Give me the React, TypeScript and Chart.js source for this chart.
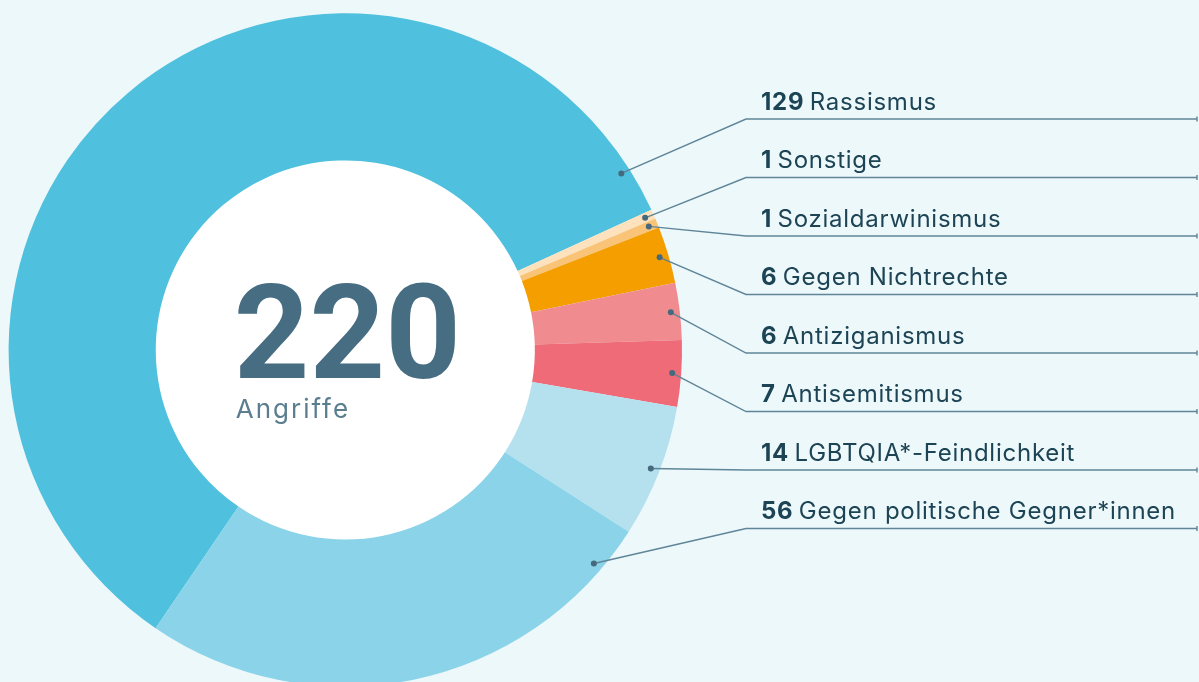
import React, { useEffect, useRef } from "react";
import { Chart, registerables } from "chart.js";

Chart.register(...registerables);

const categories = [
  "Rassismus",
  "Sonstige",
  "Sozialdarwinismus",
  "Gegen Nichtrechte",
  "Antiziganismus",
  "Antisemitismus",
  "LGBTQIA*-Feindlichkeit",
  "Gegen politische Gegner*innen",
];
const values = [129, 1, 1, 6, 6, 7, 14, 56];
const colors = [
  "#4fc0dd",
  "#fde2bd",
  "#f9c477",
  "#f49e00",
  "#f08c90",
  "#ee6b77",
  "#b5e1ef",
  "#8bd3e9",
];
const centerCaption = "Angriffe";

const BG = "#edf8fb";
const TEXT = "#1d4455";
const LINE = "#5f8598";
const DOT = "#46697d";

const labelPlugin = {
  id: "labels",
  beforeDatasetsDraw(chart: any) {
    const meta = chart.getDatasetMeta(0);
    const a = meta.data[0];
    if (!a) return;
    const ctx = chart.ctx;
    ctx.save();
    ctx.fillStyle = "#ffffff";
    ctx.beginPath();
    ctx.arc(a.x, a.y, a.innerRadius + 0.5, 0, Math.PI * 2);
    ctx.fill();
    ctx.restore();
  },
  afterDraw(chart: any) {
    const ctx = chart.ctx;
    const meta = chart.getDatasetMeta(0);
    const arcs = meta.data;
    if (!arcs.length) return;
    const cx = arcs[0].x;
    const cy = arcs[0].y;
    const deg = Math.PI / 180;
    const rowTop = 119;
    const rowStep = 58.5;
    const kneeX = 746;
    const endX = 1197;
    const textX = 761;

    arcs.forEach((arc: any, i: number) => {
      const s = arc.startAngle;
      const e = arc.endAngle;
      let ang: number;
      if (e - s < 30 * deg) {
        ang = (s + e) / 2;
      } else {
        const lo = s + 8 * deg;
        const hi = e - 8 * deg;
        let best = lo;
        let bestD = Infinity;
        for (let k = -2; k <= 2; k++) {
          const t = 2 * Math.PI * k;
          const c = Math.min(Math.max(t, lo), hi);
          const d = Math.abs(c - t);
          if (d < bestD) {
            bestD = d;
            best = c;
          }
        }
        ang = best;
      }
      const r = arc.outerRadius - 9;
      const dx = cx + r * Math.cos(ang);
      const dy = cy + r * Math.sin(ang);
      const ly = rowTop + i * rowStep;

      ctx.save();
      ctx.strokeStyle = LINE;
      ctx.lineWidth = 1.4;
      ctx.beginPath();
      ctx.moveTo(dx, dy);
      ctx.lineTo(kneeX, ly);
      ctx.lineTo(endX, ly);
      ctx.stroke();
      ctx.beginPath();
      ctx.moveTo(endX, ly - 2.5);
      ctx.lineTo(endX, ly + 2.5);
      ctx.stroke();
      ctx.fillStyle = DOT;
      ctx.beginPath();
      ctx.arc(dx, dy, 3, 0, Math.PI * 2);
      ctx.fill();

      ctx.fillStyle = TEXT;
      ctx.textBaseline = "alphabetic";
      ctx.textAlign = "left";
      (ctx as any).letterSpacing = "0.75px";
      const num = String(values[i]) + " ";
      ctx.font = "700 24px Inter";
      ctx.fillText(num, textX, ly - 9.5);
      const w = ctx.measureText(num).width;
      ctx.font = "400 24px Inter";
      ctx.fillText(categories[i], textX + w - 1, ly - 9.5);
      (ctx as any).letterSpacing = "0px";
      ctx.restore();
    });

    const total = values.reduce((p, v) => p + v, 0);
    ctx.save();
    ctx.fillStyle = "#466d81";
    ctx.font = "700 132px Roboto";
    ctx.textAlign = "center";
    ctx.textBaseline = "alphabetic";
    const tw = ctx.measureText(String(total)).width;
    ctx.fillText(String(total), cx + 2, cy + 28);
    ctx.fillStyle = "#5a7e90";
    ctx.font = "400 26px Inter";
    ctx.textAlign = "left";
    (ctx as any).letterSpacing = "2px";
    ctx.fillText(centerCaption, cx + 2 - tw / 2 + 2, cy + 68);
    (ctx as any).letterSpacing = "0px";
    ctx.restore();
  },
};

export default function App() {
  const ref = useRef<HTMLCanvasElement | null>(null);
  useEffect(() => {
    if (!ref.current) return;
    const chart = new Chart(ref.current, {
      type: "doughnut",
      data: {
        labels: categories,
        datasets: [
          {
            data: values,
            backgroundColor: colors,
            borderWidth: 0,
          },
        ],
      },
      options: {
        animation: false,
        responsive: true,
        maintainAspectRatio: false,
        rotation: -145.7,
        cutout: "56.3%",
        layout: { padding: { left: 8.6, top: 13.3, right: 517, bottom: 13.3 } },
        plugins: {
          legend: { display: false },
          tooltip: { enabled: false },
        },
      },
      plugins: [labelPlugin],
    });
    return () => chart.destroy();
  }, []);
  return (
    <div
      style={{
        position: "fixed",
        left: 0,
        top: 0,
        width: 1199,
        height: 682,
        overflow: "hidden",
        background: BG,
      }}
    >
      <div style={{ position: "relative", width: 1199, height: 700 }}>
        <canvas ref={ref} />
      </div>
    </div>
  );
}
